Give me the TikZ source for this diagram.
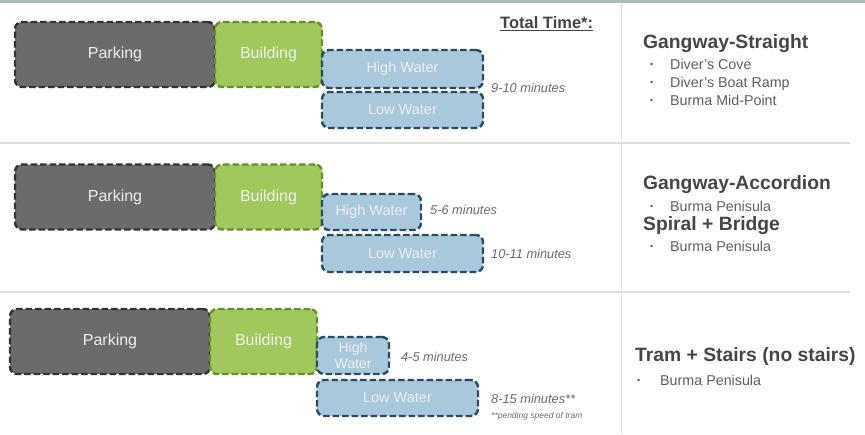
\documentclass[tikz,border=0pt]{standalone}
\usepackage{fontspec}
\setmainfont{Liberation Sans}
\definecolor{parkfill}{HTML}{6B6B6D}
\definecolor{parkline}{HTML}{333333}
\definecolor{bldfill}{HTML}{A0C85C}
\definecolor{bldline}{HTML}{6A8F2A}
\definecolor{watfill}{HTML}{A8C8DC}
\definecolor{watline}{HTML}{2B4A63}
\definecolor{boxtext}{HTML}{EEEEEE}
\definecolor{headc}{HTML}{454545}
\definecolor{itemc}{HTML}{5E5E5E}
\definecolor{minc}{HTML}{6A6A6A}
\definecolor{sepc}{HTML}{DEDEDE}
\definecolor{topband}{HTML}{A9BCBC}
\newcommand{\blt}[1]{\makebox[20pt][l]{\fontsize{9}{9}\selectfont\raisebox{1.2pt}{•}}#1}
\begin{document}
\begin{tikzpicture}[x=1pt,y=-1pt,
  box/.style={draw, rectangle, rounded corners=7pt, line width=2.4pt,
    dash pattern=on 6.5pt off 3pt, text=boxtext, inner sep=0pt,
    font=\fontsize{14.5}{15}\selectfont, align=center},
  parkbox/.style={box, fill=parkfill, draw=parkline, minimum width=200pt, minimum height=65pt, font=\fontsize{16}{17}\selectfont},
  bldbox/.style={box, fill=bldfill, draw=bldline, minimum width=107pt, minimum height=65pt, font=\fontsize{16}{17}\selectfont},
  watbox/.style={box, fill=watfill, draw=watline},
  mins/.style={anchor=west, text=minc, font=\fontsize{12.8}{13}\selectfont\itshape, inner sep=0pt},
  head/.style={anchor=west, text=headc, font=\fontsize{19.3}{20}\selectfont\bfseries, inner sep=0pt},
  item/.style={anchor=base west, text=itemc, font=\fontsize{14.3}{15}\selectfont, inner sep=0pt},
  sep/.style={draw=sepc, line width=2pt}]
\useasboundingbox (0,0) rectangle (865,434);
\fill[topband] (0,0) rectangle (865,3);
% separators
\coordinate (h1l) at (0,143); \coordinate (h1r) at (850,143);
\coordinate (h2l) at (0,292); \coordinate (h2r) at (850,292);
\coordinate (vt) at (621.5,3); \coordinate (vb) at (621.5,434);
\draw[sep] (h1l) -- (h1r);
\draw[sep] (h2l) -- (h2r);
\draw[sep, line width=1.5pt] (vt) -- (vb);

% Row 1
\node[parkbox] (p1) at (115,54.5) {Parking};
\node[bldbox] (b1) at (268.5,54.5) {Building};
\node[watbox, minimum width=161pt, minimum height=38pt] (hw1) at (402.5,69) {High Water};
\node[watbox, minimum width=161pt, minimum height=36pt] (lw1) at (402.5,110) {Low Water};
\node[anchor=west, text=headc, font=\fontsize{16.5}{17}\selectfont\bfseries, inner sep=0pt] (tt) at (500,24) {\underline{Total Time*:}};
\node[mins] (m1) at (491,88) {9-10 minutes};
\node[head] (g1) at (643,44) {Gangway-Straight};
\node[item] (i1) at (650,69) {\blt{Diver’s Cove}};
\node[item] (i2) at (650,87) {\blt{Diver’s Boat Ramp}};
\node[item] (i3) at (650,105) {\blt{Burma Mid-Point}};

% Row 2
\node[parkbox] (p2) at (115,197) {Parking};
\node[bldbox] (b2) at (268.5,197) {Building};
\node[watbox, minimum width=99pt, minimum height=36pt] (hw2) at (371.5,212) {High Water};
\node[watbox, minimum width=161pt, minimum height=37pt] (lw2) at (402.5,253.5) {Low Water};
\node[mins] (m2) at (430,210) {5-6 minutes};
\node[mins] (m3) at (491,254) {10-11 minutes};
\node[head] (g2) at (643,185) {Gangway-Accordion};
\node[item] (i4) at (650,211) {\blt{Burma Penisula}};
\node[head] (g3) at (643,226) {Spiral + Bridge};
\node[item] (i5) at (650,251) {\blt{Burma Penisula}};

% Row 3
\node[parkbox] (p3) at (110,341.5) {Parking};
\node[bldbox] (b3) at (263.5,341.5) {Building};
\node[watbox, minimum width=72pt, minimum height=37pt, font=\fontsize{14}{16}\selectfont] (hw3) at (353,355.5) {High\\Water};
\node[watbox, minimum width=161pt, minimum height=36pt] (lw3) at (397.5,398) {Low Water};
\node[mins] (m4) at (401,357) {4-5 minutes};
\node[mins] (m5) at (491,399) {8-15 minutes**};
\node[mins, font=\fontsize{8.5}{9}\selectfont\itshape] (m6) at (491,416) {**pending speed of tram};
\node[head] (g4) at (635,357) {Tram + Stairs (no stairs)};
\node[item] (i6) at (637,385) {\makebox[23pt][l]{\fontsize{9}{9}\selectfont\raisebox{1.2pt}{•}}Burma Penisula};
\end{tikzpicture}
\end{document}
